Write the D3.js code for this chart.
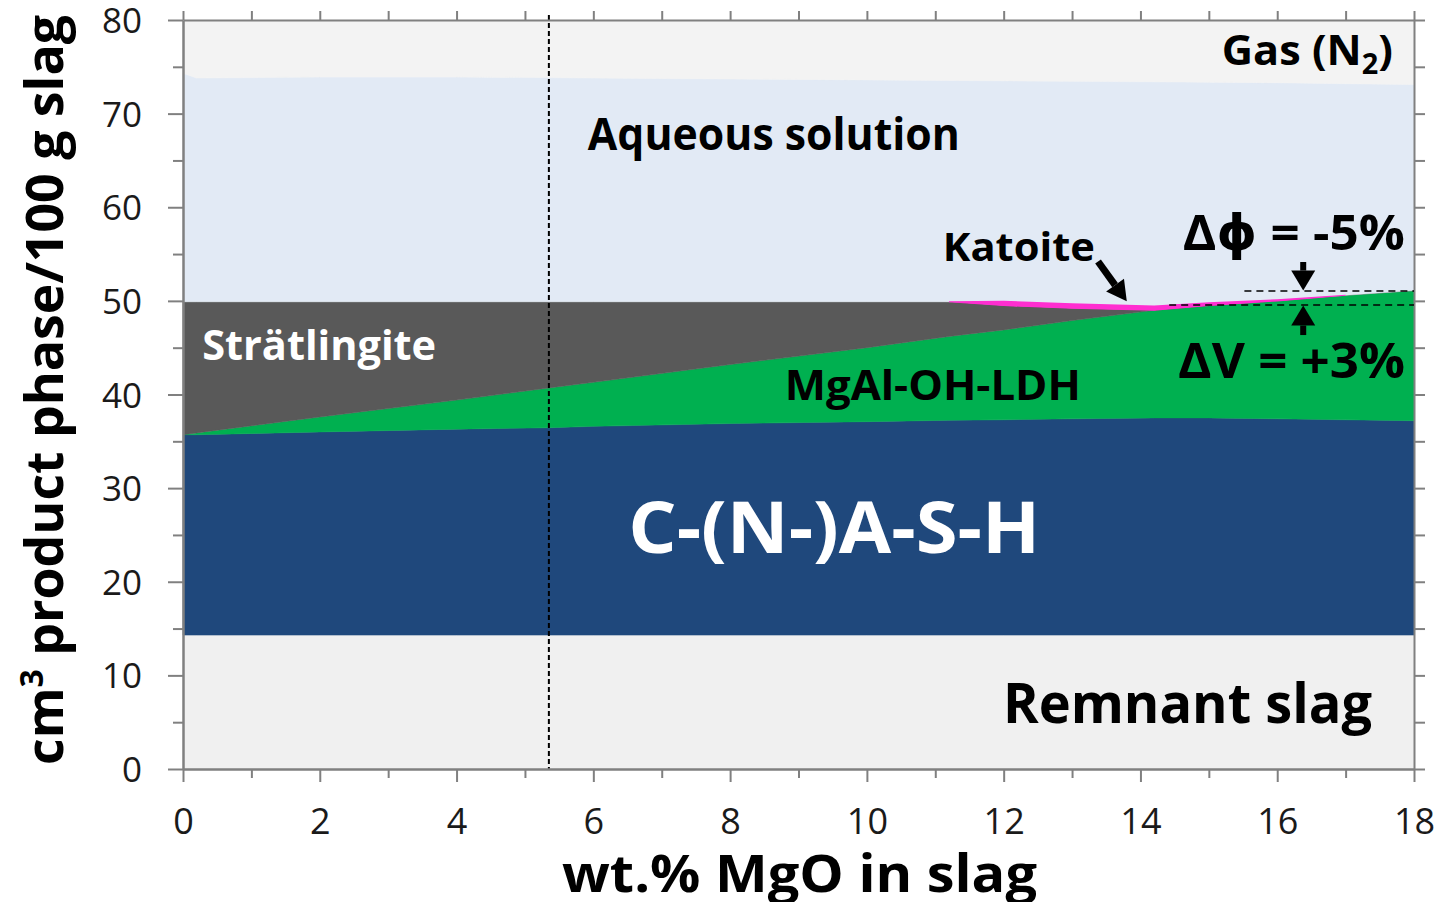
<!DOCTYPE html>
<meta charset="utf-8">
<style>
body{ margin:0; background:#fff; }
svg{ font-family:"Open Sans", "DejaVu Sans", sans-serif; }
.axis path, .axis line{ stroke:#808080; stroke-width:2; }
.axis text{ fill:#1a1a1a; font-family:"Open Sans", sans-serif; }
</style>
<div id='chart'></div>
<script src="https://cdn.jsdelivr.net/npm/d3@7"></script>
<script>
// wt.% MgO in slag
var mgo        = [0,    0.2,  2,    4,    5.35,  6,    8,    10,   11.2,  12,   13,   14.2,  15,    16,   17,    18]
// cm3 phase / 100 g slag, bottom to top
var remnant    = [14.3, 14.3, 14.3, 14.3, 14.3,  14.3, 14.3, 14.3, 14.3,  14.3, 14.3, 14.3,  14.3,  14.3, 14.3,  14.3]
var cash       = [21.4, 21.4, 21.7, 22.0, 22.15, 22.3, 22.6, 22.8, 22.95, 23.0, 23.1, 23.2,  23.2,  23.1, 23.0,  22.9]
var ldh        = [0,    0.2,  1.6,  3.1,  4.25,  4.7,  6.3,  7.9,  8.95,  9.6,  10.5, 11.5,  12.0,  12.6, 13.3,  13.9]
var stratling  = [14.2, 14.0, 12.3, 10.5, 9.2,   8.6,  6.7,  4.9,  3.7,   2.6,  1.3,  0,     0,     0,    0,     0]
var katoite    = [0,    0,    0,    0,    0,     0,    0,    0,    0,     0.45, 0.5,  0.45,  0.3,   0.12, 0,     0]
var aqueous    = [24.4, 23.9, 24.0, 24.0, 23.95, 23.9, 23.8, 23.7, 23.65, 23.55,23.75,23.95, 23.55, 23.18,22.6,  22.0]
var gas        = [5.7,  6.2,  6.1,  6.1,  6.15,  6.2,  6.3,  6.4,  6.45,  6.5,  6.55, 6.6,   6.65,  6.7,  6.8,   6.9]

var xTicks = [0, 2, 4, 6, 8, 10, 12, 14, 16, 18]
var yTicks = [0, 10, 20, 30, 40, 50, 60, 70, 80]
var mgoRef = 5.35

var phases = [
  {key: 'remnant', values: remnant, color: '#f0f0f0'},
  {key: 'cash', values: cash, color: '#1f487c'},
  {key: 'ldh', values: ldh, color: '#00b050'},
  {key: 'strat', values: stratling, color: '#595959'},
  {key: 'katoite', values: katoite, color: '#ff2ed0'},
  {key: 'aqueous', values: aqueous, color: '#e2eaf5'},
  {key: 'gas', values: gas, color: '#f3f3f3'}
]

var margin = {top: 20, right: 25, bottom: 133, left: 183},
    width = 1439 - margin.left - margin.right,
    height = 902 - margin.top - margin.bottom

var svg = d3.select('#chart').append('svg')
    .attr('width', 1439).attr('height', 902)
var g = svg.append('g').attr('transform', 'translate(' + margin.left + ',' + margin.top + ')')

var x = d3.scaleLinear().domain([0, 18]).range([0, width])
var y = d3.scaleLinear().domain([0, 80]).range([height, 0])

var rows = mgo.map(function(m, i){
  var r = {mgo: m}
  phases.forEach(function(p){ r[p.key] = p.values[i] })
  return r
})
var stack = d3.stack().keys(phases.map(function(p){ return p.key }))
var series = stack(rows)

var area = d3.area()
    .x(function(d){ return x(d.data.mgo) })
    .y0(function(d){ return y(d[0]) })
    .y1(function(d){ return y(d[1]) })

g.selectAll('path.layer').data(series).enter().append('path')
    .attr('class', 'layer')
    .attr('d', area)
    .attr('fill', function(d, i){ return phases[i].color })
    .attr('stroke', function(d, i){ return phases[i].key == 'katoite' ? 'none' : phases[i].color })
    .attr('stroke-width', 0.5)

// katoite is a thin sliver, redraw it on top (only where present) so it stays visible
function thick(d){ return d[1] - d[0] > 0 }
var katArea = d3.area()
    .defined(function(d, i, arr){ return thick(d) || (arr[i - 1] && thick(arr[i - 1])) || (arr[i + 1] && thick(arr[i + 1])) })
    .x(function(d){ return x(d.data.mgo) })
    .y0(function(d){ return y(d[0]) + 0.5 })
    .y1(function(d){ return y(d[1]) - 0.5 })
g.append('path')
    .datum(series[4])
    .attr('d', katArea)
    .attr('fill', phases[4].color)

// reference composition line
g.append('line')
    .attr('x1', x(mgoRef)).attr('x2', x(mgoRef))
    .attr('y1', -5).attr('y2', height)
    .attr('stroke', '#000').attr('stroke-width', 2).attr('stroke-dasharray', '5,3')

// axes
function styleAxis(sel){ sel.attr('class', 'axis') }
g.append('g').call(styleAxis).attr('transform', 'translate(0,' + height + ')')
    .call(d3.axisBottom(x).tickValues(d3.range(1, 18, 2)).tickSize(9).tickSizeOuter(0).tickFormat(''))
var xa = g.append('g').call(styleAxis).attr('transform', 'translate(0,' + height + ')')
    .call(d3.axisBottom(x).tickValues(xTicks).tickSize(13).tickSizeOuter(0))
xa.selectAll('text').attr('y', 65).attr('dy', 0).style('font-size', '36px')

g.append('g').call(styleAxis)
    .call(d3.axisLeft(y).tickValues(d3.range(5, 80, 10)).tickSize(10).tickSizeOuter(0).tickFormat(''))
var ya = g.append('g').call(styleAxis)
    .call(d3.axisLeft(y).tickValues(yTicks).tickSize(15).tickSizeOuter(0))
ya.selectAll('text').attr('x', -41).attr('dy', '0.36em').style('font-size', '35px')

g.append('g').call(styleAxis)
    .call(d3.axisTop(x).tickValues(d3.range(0, 19, 1)).tickSize(9).tickSizeOuter(0).tickFormat(''))
g.append('g').call(styleAxis).attr('transform', 'translate(' + width + ',0)')
    .call(d3.axisRight(y).tickValues(d3.range(0, 81, 5)).tickSize(11).tickSizeOuter(0).tickFormat(''))

// axis titles
svg.append('text')
    .attr('x', 562).attr('y', 892)
    .attr('textLength', 475).attr('lengthAdjust', 'spacingAndGlyphs')
    .style('font-size', '52px').style('font-weight', 700)
    .text('wt.% MgO in slag')

var yt = svg.append('text')
    .attr('transform', 'translate(63,765) rotate(-90)')
    .attr('textLength', 750).attr('lengthAdjust', 'spacingAndGlyphs')
    .style('font-size', '52px').style('font-weight', 700)
yt.append('tspan').text('cm')
yt.append('tspan').attr('dy', -20).style('font-size', '32px').text('3')
yt.append('tspan').attr('dy', 20).text(' product phase/100 g slag')

// phase labels
function label(txt, mx, vy, w, size, color){
  return g.append('text')
      .attr('x', x(mx)).attr('y', y(vy))
      .attr('textLength', w).attr('lengthAdjust', 'spacingAndGlyphs')
      .style('font-size', size + 'px').style('font-weight', 700)
      .attr('fill', color || '#000')
      .text(txt)
}
var gasLbl = g.append('text')
    .attr('x', x(15.19)).attr('y', y(75.2))
    .attr('textLength', 171).attr('lengthAdjust', 'spacingAndGlyphs')
    .style('font-size', '42px').style('font-weight', 700)
gasLbl.append('tspan').text('Gas (N')
gasLbl.append('tspan').attr('dy', 9).style('font-size', '28px').text('2')
gasLbl.append('tspan').attr('dy', -9).text(')')

label('Aqueous solution', 5.92, 66.1, 372, 44)
label('Katoite', 11.11, 54.26, 152, 40)
label('\u0394\u03d5 = -5%', 14.62, 55.43, 222, 49)
label('\u0394V = +3%', 14.55, 41.76, 227, 49)
label('Str\u00e4tlingite', 0.28, 43.68, 234, 42, '#fff')
label('MgAl-OH-LDH', 8.80, 39.41, 296, 41)
label('C-(N-)A-S-H', 6.51, 23.07, 412, 71, '#fff')
label('Remnant slag', 11.99, 4.91, 369, 56)

// volume change markers
g.append('line')
    .attr('x1', x(15.52)).attr('x2', width).attr('y1', y(51.05)).attr('y2', y(51.05))
    .attr('stroke', '#000').attr('stroke-width', 1.5).attr('stroke-dasharray', '7,5')
g.append('line')
    .attr('x1', x(14.42)).attr('x2', width).attr('y1', y(49.55)).attr('y2', y(49.55))
    .attr('stroke', '#000').attr('stroke-width', 1.5).attr('stroke-dasharray', '7,5')

function arrow(x1, y1, x2, y2, shaft, head, headW){
  var px1 = x(x1), py1 = y(y1), px2 = x(x2), py2 = y(y2)
  var ang = Math.atan2(py2 - py1, px2 - px1)
  var bx = px2 - head * Math.cos(ang), by = py2 - head * Math.sin(ang)
  g.append('line')
      .attr('x1', px1).attr('y1', py1).attr('x2', bx).attr('y2', by)
      .attr('stroke', '#000').attr('stroke-width', shaft)
  var nx = -Math.sin(ang) * headW / 2, ny = Math.cos(ang) * headW / 2
  g.append('path')
      .attr('d', 'M' + px2 + ',' + py2 + 'L' + (bx + nx) + ',' + (by + ny) + 'L' + (bx - nx) + ',' + (by - ny) + 'Z')
      .attr('fill', '#000')
}
arrow(16.38, 54.15, 16.38, 51.1, 6, 20, 24)
arrow(16.38, 46.35, 16.38, 49.5, 6, 20, 24)
arrow(13.38, 54.2, 13.80, 49.95, 7, 20, 22)
</script>
